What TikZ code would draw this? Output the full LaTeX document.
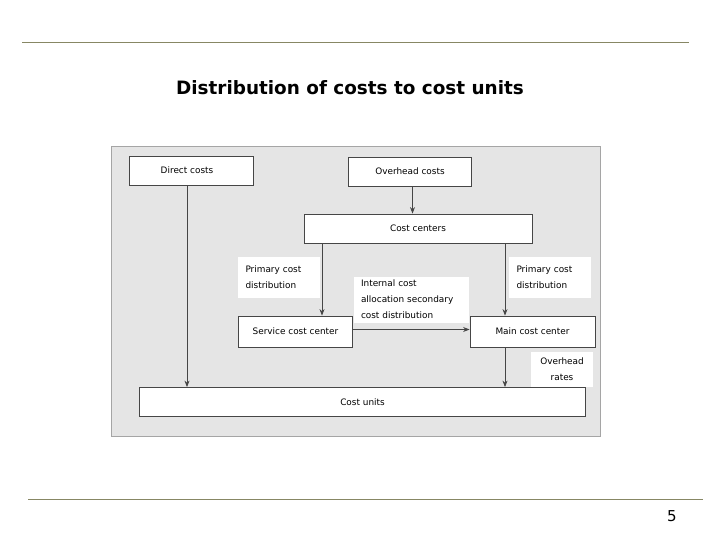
\documentclass[tikz,border=0pt]{standalone}
\usepackage{fontspec}
\setmainfont{DejaVu Sans}
\usetikzlibrary{arrows.meta}
\definecolor{panelgray}{RGB}{229,229,229}
\definecolor{panelline}{RGB}{165,165,165}
\definecolor{ruleolive}{RGB}{135,135,100}
\definecolor{boxline}{RGB}{70,70,70}
\tikzset{
  costbox/.style={draw=boxline, fill=white, line width=0.8pt, inner sep=0pt,
    font=\fontsize{8.9}{10}\selectfont},
  notebox/.style={fill=white, inner sep=0pt, align=left,
    font=\fontsize{8.9}{16}\selectfont},
  flow/.style={draw=boxline, line width=0.8pt, -{Stealth[length=6.5pt,width=5pt]}}
}
\begin{document}
\begin{tikzpicture}[x=1pt,y=-1pt]
        \useasboundingbox (0,0) rectangle (720,540);
        % Rules at top and bottom of the slide
        \draw[ruleolive, line width=1pt] (22,43) -- (689,43);
        \draw[ruleolive, line width=1pt] (28,499) -- (703,499);
        % Title and page number
        \node[font=\fontsize{18.4}{20}\selectfont\bfseries] (title) at (350,88) {Distribution of costs to cost units};
        \node[font=\fontsize{15}{16}\selectfont] (page) at (672,516) {5};

        % Gray panel behind the chart
        \draw[panelline, fill=panelgray, line width=1pt] (111,147) rectangle (600,436);

        % Boxes
        \node[costbox, minimum width=124pt, minimum height=29pt] (direct) at (191,170.5) {\hspace*{-8pt}Direct costs};
        \node[costbox, minimum width=123pt, minimum height=29pt] (overhead) at (410,171.5) {Overhead costs};
        \node[costbox, minimum width=228pt, minimum height=29pt] (centers) at (418,228.5) {Cost centers};
        \node[costbox, minimum width=114pt, minimum height=31pt] (service) at (295.5,331.5) {Service cost center};
        \node[costbox, minimum width=125pt, minimum height=31pt] (main) at (532.5,331.5) {Main cost center};
        \node[costbox, minimum width=446pt, minimum height=29pt] (units) at (362.5,402) {Cost units};

        % White labels beside the arrows
        \node[notebox, minimum width=82pt, minimum height=41pt, text width=66pt] (primleft) at (278.5,277) {Primary cost\\distribution};
        \node[notebox, minimum width=82pt, minimum height=41pt, text width=66pt] (primright) at (549.5,277) {Primary cost\\distribution};
        \node[notebox, minimum width=115pt, minimum height=46pt, text width=100pt] (internal) at (411,299.5) {Internal cost\\allocation secondary\\cost distribution};
        \node[notebox, minimum width=62pt, minimum height=35pt, align=center] (rates) at (562,369) {Overhead\\rates};

        % Draw arrows between boxes
        \draw[flow] ([xshift=-4pt]direct.south) -- ([xshift=-4pt]direct.south |- units.north);
        \draw[flow] ([xshift=2.5pt]overhead.south) -- ([xshift=2.5pt]overhead.south |- centers.north);
        \draw[flow] ([xshift=26.5pt]service.north |- centers.south) -- ([xshift=26.5pt]service.north);
        \draw[flow] ([xshift=-27.5pt]main.north |- centers.south) -- ([xshift=-27.5pt]main.north);
        \draw[flow] ([yshift=2pt]service.east) -- ([yshift=2pt]service.east -| main.west);
        \draw[flow] ([xshift=-27.5pt]main.south) -- ([xshift=-27.5pt]main.south |- units.north);
\end{tikzpicture}
\end{document}
